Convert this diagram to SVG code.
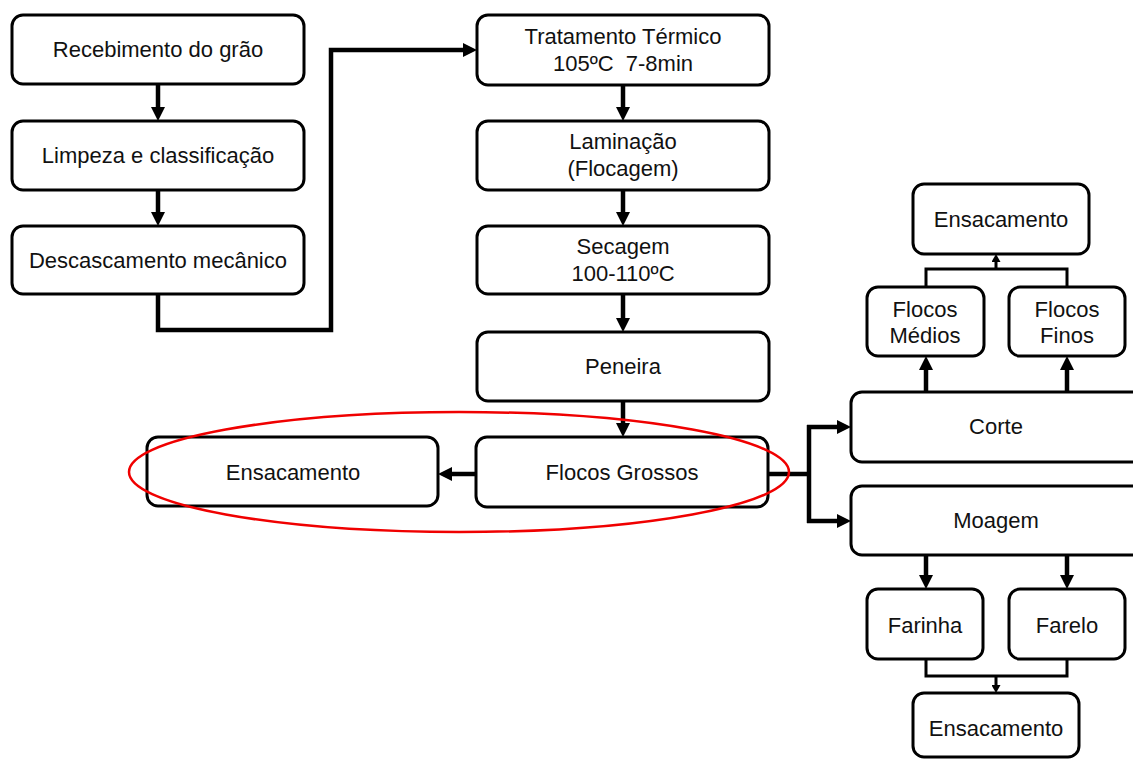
<svg xmlns="http://www.w3.org/2000/svg" width="1133" height="760" viewBox="0 0 1133 760">
<style>
.box{fill:#fff;stroke:#000;stroke-width:3}
.t{font-family:"Liberation Sans",Arial,sans-serif;font-size:22px;fill:#111;text-anchor:middle;white-space:pre}
.c{fill:none;stroke:#000;stroke-width:4.5}
.cs{fill:none;stroke:#000;stroke-width:3}
</style>
<defs>
<marker id="ah" markerUnits="userSpaceOnUse" markerWidth="14" markerHeight="14" refX="0" refY="7" orient="auto"><path d="M0,0 L14,7 L0,14 z" fill="#000"/></marker>
<marker id="as" markerUnits="userSpaceOnUse" markerWidth="8" markerHeight="9" refX="0" refY="4.5" orient="auto"><path d="M0,0 L8,4.5 L0,9 z" fill="#000"/></marker>
</defs>
<rect width="1133" height="760" fill="#fff"/>
<g id="connectors">
<path class="c" d="M158,84 V107" marker-end="url(#ah)"/>
<path class="c" d="M158,190 V212" marker-end="url(#ah)"/>
<path class="c" d="M158,294 V330 H331 V50 H463" marker-end="url(#ah)"/>
<path class="c" d="M623,85 V107" marker-end="url(#ah)"/>
<path class="c" d="M623,190 V212" marker-end="url(#ah)"/>
<path class="c" d="M623,294 V318" marker-end="url(#ah)"/>
<path class="c" d="M623,401 V423" marker-end="url(#ah)"/>
<path class="c" d="M476,474 H452" marker-end="url(#ah)"/>
<path class="c" d="M768,474 H809"/>
<path class="c" d="M809,425 V523"/>
<path class="c" d="M807,427 H837" marker-end="url(#ah)"/>
<path class="c" d="M807,521 H837" marker-end="url(#ah)"/>
<path class="c" d="M926,392 V370" marker-end="url(#ah)"/>
<path class="c" d="M1067,392 V370" marker-end="url(#ah)"/>
<path class="cs" d="M926,287 V269 H1067 V287"/>
<path class="cs" d="M996,269 V262" marker-end="url(#as)"/>
<path class="c" d="M926,555 V575" marker-end="url(#ah)"/>
<path class="c" d="M1067,555 V575" marker-end="url(#ah)"/>
<path class="cs" d="M926,659 V676 H1067 V659"/>
<path class="cs" d="M996,676 V685" marker-end="url(#as)"/>
</g>
<g id="n1"><rect class="box" x="12" y="15" width="292" height="69" rx="11"/><text class="t" x="158" y="57">Recebimento do grão</text></g>
<g id="n2"><rect class="box" x="12" y="121" width="292" height="69" rx="11"/><text class="t" x="158" y="163">Limpeza e classificação</text></g>
<g id="n3"><rect class="box" x="12" y="226" width="292" height="68" rx="11"/><text class="t" x="158" y="268">Descascamento mecânico</text></g>
<g id="n4"><rect class="box" x="477" y="15" width="292" height="70" rx="11"/><text class="t" x="623" y="44">Tratamento Térmico</text><text class="t" x="623" y="71">105ºC  7-8min</text></g>
<g id="n5"><rect class="box" x="477" y="121" width="292" height="69" rx="11"/><text class="t" x="623" y="149">Laminação</text><text class="t" x="623" y="176">(Flocagem)</text></g>
<g id="n6"><rect class="box" x="477" y="226" width="292" height="68" rx="11"/><text class="t" x="623" y="254">Secagem</text><text class="t" x="623" y="281">100-110ºC</text></g>
<g id="n7"><rect class="box" x="477" y="332" width="292" height="69" rx="11"/><text class="t" x="623" y="374">Peneira</text></g>
<g id="n8"><rect class="box" x="476" y="437" width="292" height="70" rx="11"/><text class="t" x="622" y="480">Flocos Grossos</text></g>
<g id="n9"><rect class="box" x="147" y="437" width="291" height="69" rx="11"/><text class="t" x="293" y="480">Ensacamento</text></g>
<g id="n10"><rect class="box" x="851" y="392" width="292" height="70" rx="11"/><text class="t" x="996" y="434">Corte</text></g>
<g id="n11"><rect class="box" x="851" y="486" width="292" height="69" rx="11"/><text class="t" x="996" y="528">Moagem</text></g>
<g id="n12"><rect class="box" x="867" y="287" width="117" height="69" rx="11"/><text class="t" x="925" y="317">Flocos</text><text class="t" x="925" y="343">Médios</text></g>
<g id="n13"><rect class="box" x="1009" y="287" width="116" height="69" rx="11"/><text class="t" x="1067" y="317">Flocos</text><text class="t" x="1067" y="343">Finos</text></g>
<g id="n14"><rect class="box" x="913" y="184" width="176" height="70" rx="11"/><text class="t" x="1001" y="227">Ensacamento</text></g>
<g id="n15"><rect class="box" x="867" y="589" width="116" height="70" rx="11"/><text class="t" x="925" y="633">Farinha</text></g>
<g id="n16"><rect class="box" x="1009" y="589" width="116" height="70" rx="11"/><text class="t" x="1067" y="633">Farelo</text></g>
<g id="n17"><rect class="box" x="913" y="693" width="166" height="64" rx="11"/><text class="t" x="996" y="736">Ensacamento</text></g>
<ellipse cx="459" cy="472" rx="330" ry="60" fill="none" stroke="#f00000" stroke-width="2.5"/>
</svg>
